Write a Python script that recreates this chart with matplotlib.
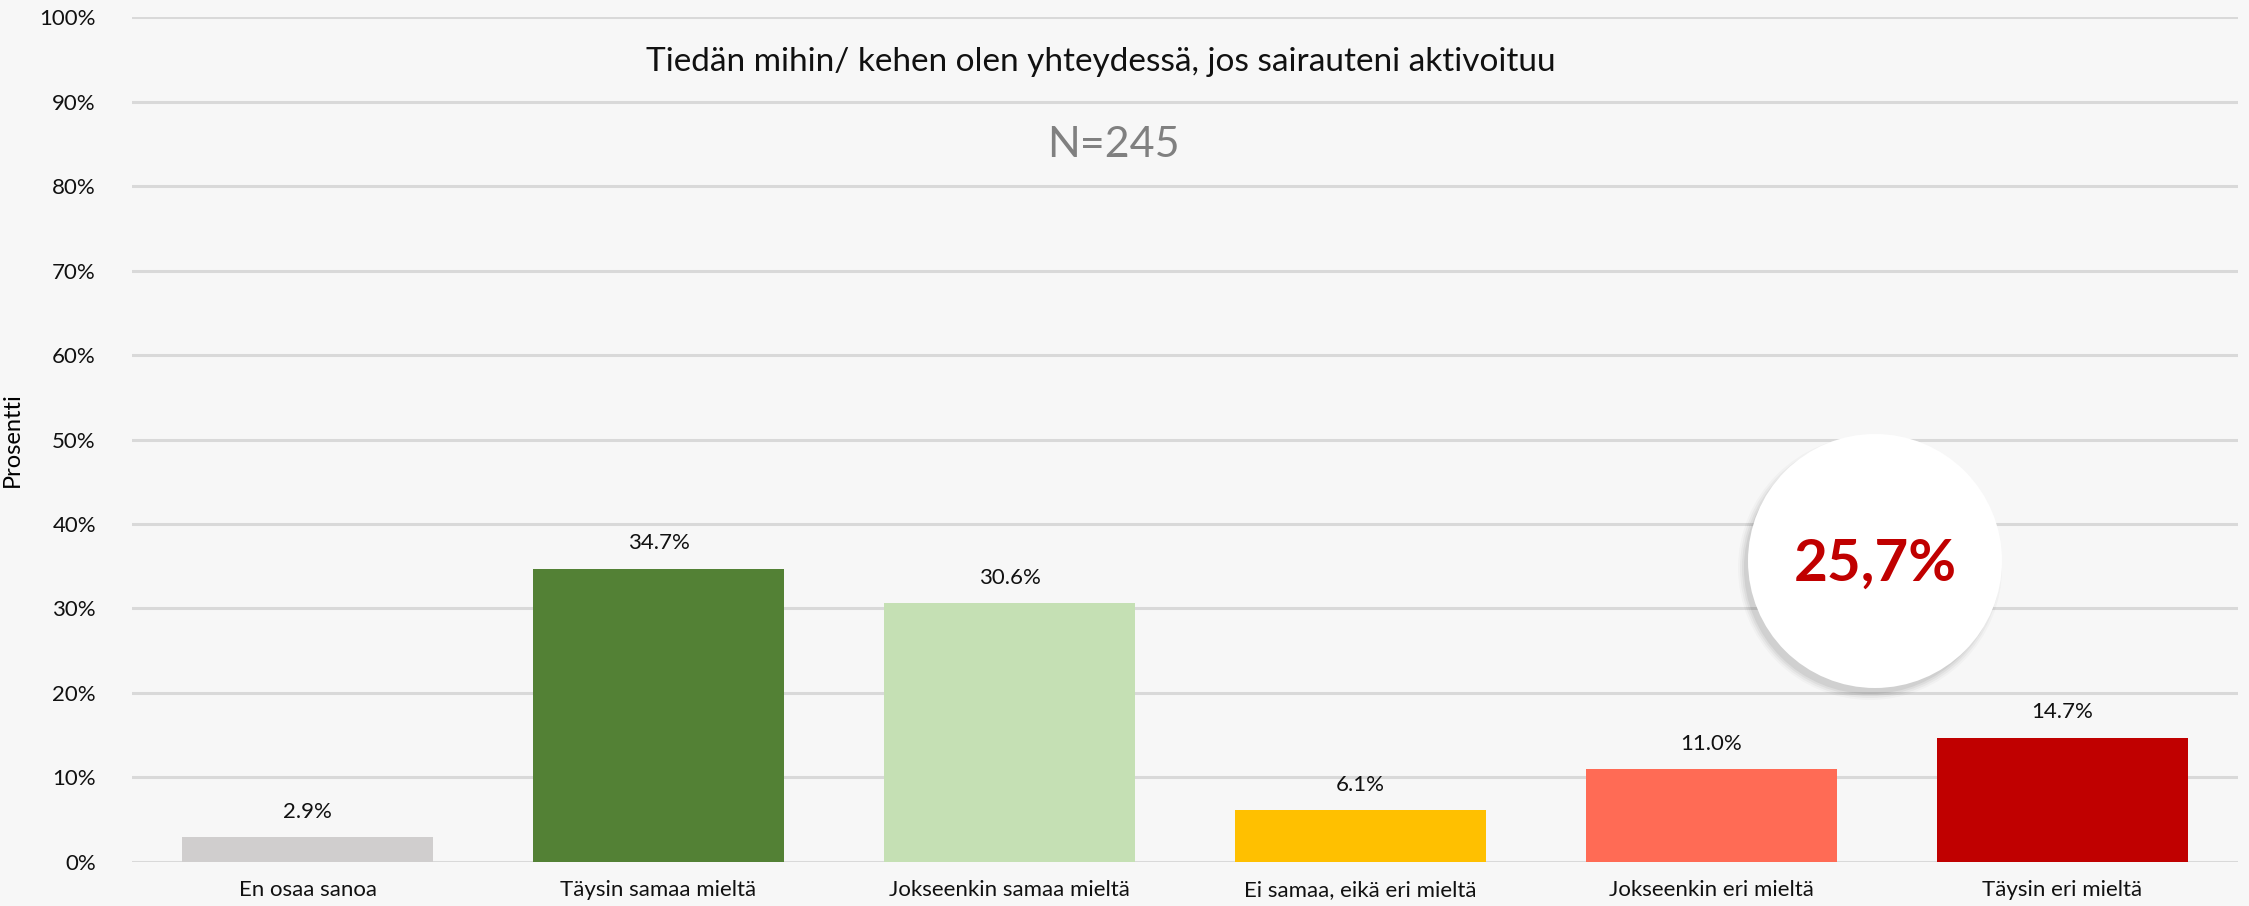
import matplotlib
matplotlib.use("Agg")
import matplotlib.pyplot as plt
from matplotlib.patches import Circle

# Data
kategoriat = ['En osaa sanoa', 'Täysin samaa mieltä', 'Jokseenkin samaa mieltä',
              'Ei samaa, eikä eri mieltä', 'Jokseenkin eri mieltä', 'Täysin eri mieltä']
prosentit = [2.9, 34.7, 30.6, 6.1, 11.0, 14.7]
varit = ['#d0cece', '#538135', '#c5e0b4', '#ffc000', '#ff6b55', '#c00000']
y_ticks = list(range(0, 101, 10))
otsikko = 'Tiedän mihin/ kehen olen yhteydessä, jos sairauteni aktivoituu'
n_teksti = 'N=245'
korostus = '25,7%'

plt.rcParams['font.family'] = ['Lato', 'DejaVu Sans']

fig = plt.figure(figsize=(22.49, 9.06), dpi=100)
fig.patch.set_facecolor('#f7f7f7')
ax = fig.add_axes([0.0587, 0.0486, 0.9364, 0.9326])
ax.set_facecolor('#f7f7f7')

x = range(len(kategoriat))
bars = ax.bar(x, prosentit, width=0.715, color=varit, zorder=3)

# Arvot palkkien paalle
for b, v in zip(bars, prosentit):
    ax.annotate(f'{v:.1f}%', (b.get_x() + b.get_width() / 2, v),
                xytext=(0, 11), textcoords='offset points',
                ha='center', va='bottom', fontsize=16, color='#111111')

ax.set_xlim(-0.5, len(kategoriat) - 0.5)
ax.set_ylim(0, 100)
ax.set_yticks(y_ticks)
ax.set_yticklabels([f'{t}%' for t in y_ticks], fontsize=16, color='#111111')
ax.set_xticks(list(x))
ax.set_xticklabels(kategoriat, fontsize=16, color='#111111')
ax.tick_params(axis='both', length=0)
ax.tick_params(axis='y', pad=26)
ax.tick_params(axis='x', pad=13)
ax.grid(axis='y', color='#d9d9d9', linewidth=2.2, zorder=0)
for s in ax.spines.values():
    s.set_visible(False)
ax.set_ylabel('Prosentti', fontsize=17, labelpad=12)

ax.text(0.46, 0.947, otsikko, transform=ax.transAxes, ha='center', va='center',
        fontsize=24, color='#111111')
ax.text(0.466, 0.849, n_teksti, transform=ax.transAxes, ha='center', va='center',
        fontsize=31, color='#808080')

# Ympyra varjolla
cx, cy, r = 18.75, 3.45, 1.27
for i, a in enumerate([0.025, 0.035, 0.045, 0.06]):
    fig.patches.append(Circle((cx - 0.05, cy - 0.07), r + 0.05 - i * 0.02,
                              transform=fig.dpi_scale_trans,
                              facecolor='#000000', alpha=a, edgecolor='none', zorder=4))
fig.patches.append(Circle((cx, cy), r, transform=fig.dpi_scale_trans,
                          facecolor='white', edgecolor='none', zorder=5))
fig.text(cx / 22.49, (cy - 0.03) / 9.06, korostus, ha='center', va='center',
         fontsize=42, fontweight='bold', color='#c00000', zorder=6)

fig.savefig('out.png', dpi=100, facecolor=fig.get_facecolor())
